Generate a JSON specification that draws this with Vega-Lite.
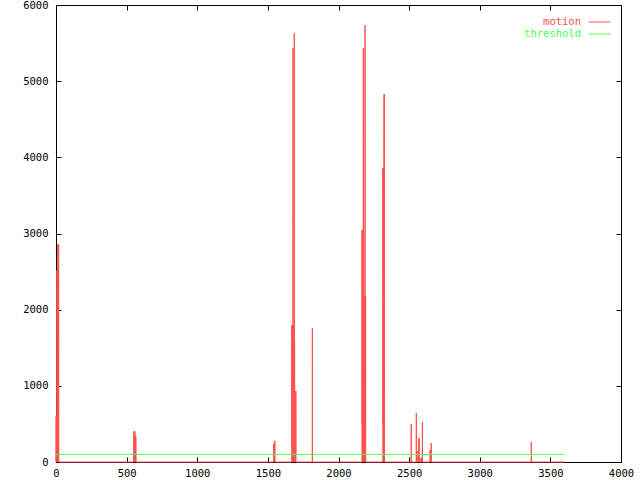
{
  "$schema": "https://vega.github.io/schema/vega-lite/v6.json",
  "width": 565,
  "height": 457,
  "autosize": {"type": "none"},
  "padding": {"left": 56, "top": 5, "right": 19, "bottom": 18},
  "background": "white",
  "config": {
    "view": {"stroke": null},
    "axis": {
      "grid": false,
      "domainColor": "black",
      "domainWidth": 1,
      "tickColor": "black",
      "tickWidth": 1,
      "tickSize": -5,
      "labelColor": "black",
      "labelFont": "DejaVu Sans Mono",
      "labelFontSize": 10.5,
      "title": null,
      "format": "d"
    }
  },
  "datasets": {
    "motion": [
      {"t": 0, "v": 0, "series": "motion"}, {"t": 1, "v": 596, "series": "motion"}, {"t": 2, "v": 0, "series": "motion"}, {"t": 3, "v": 596, "series": "motion"}, {"t": 4, "v": 200, "series": "motion"}, {"t": 5, "v": 596, "series": "motion"}, {"t": 6, "v": 0, "series": "motion"}, {"t": 7, "v": 2517, "series": "motion"}, {"t": 8, "v": 300, "series": "motion"}, {"t": 9, "v": 2517, "series": "motion"}, {"t": 10, "v": 0, "series": "motion"}, {"t": 11, "v": 2400, "series": "motion"}, {"t": 12, "v": 2517, "series": "motion"}, {"t": 13, "v": 100, "series": "motion"}, {"t": 14, "v": 2855, "series": "motion"}, {"t": 15, "v": 0, "series": "motion"}, {"t": 16, "v": 2855, "series": "motion"}, {"t": 17, "v": 600, "series": "motion"}, {"t": 18, "v": 2700, "series": "motion"}, {"t": 19, "v": 2855, "series": "motion"}, {"t": 20, "v": 0, "series": "motion"},
      {"t": 550, "v": 0, "series": "motion"}, {"t": 552, "v": 400, "series": "motion"}, {"t": 553, "v": 0, "series": "motion"}, {"t": 554, "v": 400, "series": "motion"}, {"t": 555, "v": 150, "series": "motion"}, {"t": 556, "v": 400, "series": "motion"}, {"t": 557, "v": 0, "series": "motion"}, {"t": 558, "v": 400, "series": "motion"}, {"t": 559, "v": 333, "series": "motion"}, {"t": 560, "v": 0, "series": "motion"}, {"t": 561, "v": 333, "series": "motion"}, {"t": 562, "v": 100, "series": "motion"}, {"t": 563, "v": 333, "series": "motion"}, {"t": 564, "v": 0, "series": "motion"}, {"t": 565, "v": 333, "series": "motion"}, {"t": 566, "v": 0, "series": "motion"},
      {"t": 1541, "v": 0, "series": "motion"}, {"t": 1542, "v": 237, "series": "motion"}, {"t": 1543, "v": 0, "series": "motion"}, {"t": 1544, "v": 237, "series": "motion"}, {"t": 1545, "v": 0, "series": "motion"}, {"t": 1546, "v": 237, "series": "motion"}, {"t": 1547, "v": 276, "series": "motion"}, {"t": 1548, "v": 0, "series": "motion"}, {"t": 1549, "v": 276, "series": "motion"}, {"t": 1550, "v": 0, "series": "motion"},
      {"t": 1669, "v": 0, "series": "motion"}, {"t": 1670, "v": 1795, "series": "motion"}, {"t": 1671, "v": 200, "series": "motion"}, {"t": 1672, "v": 1795, "series": "motion"}, {"t": 1673, "v": 0, "series": "motion"}, {"t": 1674, "v": 1700, "series": "motion"}, {"t": 1675, "v": 1795, "series": "motion"}, {"t": 1676, "v": 300, "series": "motion"}, {"t": 1677, "v": 1795, "series": "motion"}, {"t": 1678, "v": 5435, "series": "motion"}, {"t": 1679, "v": 0, "series": "motion"}, {"t": 1680, "v": 1500, "series": "motion"}, {"t": 1681, "v": 1000, "series": "motion"}, {"t": 1682, "v": 1800, "series": "motion"}, {"t": 1683, "v": 0, "series": "motion"}, {"t": 1684, "v": 1200, "series": "motion"}, {"t": 1685, "v": 400, "series": "motion"}, {"t": 1686, "v": 1400, "series": "motion"}, {"t": 1687, "v": 5632, "series": "motion"}, {"t": 1688, "v": 0, "series": "motion"}, {"t": 1689, "v": 1600, "series": "motion"}, {"t": 1690, "v": 932, "series": "motion"}, {"t": 1691, "v": 0, "series": "motion"}, {"t": 1692, "v": 932, "series": "motion"}, {"t": 1693, "v": 300, "series": "motion"}, {"t": 1694, "v": 932, "series": "motion"}, {"t": 1695, "v": 0, "series": "motion"}, {"t": 1696, "v": 932, "series": "motion"}, {"t": 1697, "v": 100, "series": "motion"}, {"t": 1698, "v": 932, "series": "motion"}, {"t": 1699, "v": 0, "series": "motion"},
      {"t": 1814, "v": 0, "series": "motion"}, {"t": 1815, "v": 1759, "series": "motion"}, {"t": 1816, "v": 0, "series": "motion"},
      {"t": 2166, "v": 0, "series": "motion"}, {"t": 2167, "v": 3046, "series": "motion"}, {"t": 2168, "v": 500, "series": "motion"}, {"t": 2169, "v": 3046, "series": "motion"}, {"t": 2170, "v": 0, "series": "motion"}, {"t": 2171, "v": 2800, "series": "motion"}, {"t": 2172, "v": 3046, "series": "motion"}, {"t": 2173, "v": 200, "series": "motion"}, {"t": 2174, "v": 3046, "series": "motion"}, {"t": 2175, "v": 400, "series": "motion"}, {"t": 2176, "v": 5435, "series": "motion"}, {"t": 2177, "v": 0, "series": "motion"}, {"t": 2178, "v": 2170, "series": "motion"}, {"t": 2179, "v": 300, "series": "motion"}, {"t": 2180, "v": 2170, "series": "motion"}, {"t": 2181, "v": 0, "series": "motion"}, {"t": 2182, "v": 2170, "series": "motion"}, {"t": 2183, "v": 2100, "series": "motion"}, {"t": 2184, "v": 200, "series": "motion"}, {"t": 2185, "v": 2170, "series": "motion"}, {"t": 2186, "v": 0, "series": "motion"}, {"t": 2187, "v": 2170, "series": "motion"}, {"t": 2188, "v": 5737, "series": "motion"}, {"t": 2189, "v": 100, "series": "motion"}, {"t": 2190, "v": 2170, "series": "motion"}, {"t": 2191, "v": 0, "series": "motion"}, {"t": 2192, "v": 2170, "series": "motion"}, {"t": 2193, "v": 0, "series": "motion"},
      {"t": 2314, "v": 0, "series": "motion"}, {"t": 2315, "v": 3860, "series": "motion"}, {"t": 2316, "v": 500, "series": "motion"}, {"t": 2317, "v": 3860, "series": "motion"}, {"t": 2318, "v": 0, "series": "motion"}, {"t": 2319, "v": 3700, "series": "motion"}, {"t": 2320, "v": 3860, "series": "motion"}, {"t": 2321, "v": 300, "series": "motion"}, {"t": 2322, "v": 3860, "series": "motion"}, {"t": 2323, "v": 4828, "series": "motion"}, {"t": 2324, "v": 0, "series": "motion"}, {"t": 2325, "v": 4828, "series": "motion"}, {"t": 2326, "v": 0, "series": "motion"},
      {"t": 2514, "v": 0, "series": "motion"}, {"t": 2515, "v": 499, "series": "motion"}, {"t": 2516, "v": 0, "series": "motion"},
      {"t": 2550, "v": 0, "series": "motion"}, {"t": 2551, "v": 643, "series": "motion"}, {"t": 2552, "v": 0, "series": "motion"},
      {"t": 2562, "v": 0, "series": "motion"}, {"t": 2563, "v": 144, "series": "motion"}, {"t": 2564, "v": 20, "series": "motion"}, {"t": 2565, "v": 144, "series": "motion"}, {"t": 2566, "v": 0, "series": "motion"}, {"t": 2567, "v": 144, "series": "motion"}, {"t": 2568, "v": 315, "series": "motion"}, {"t": 2569, "v": 0, "series": "motion"}, {"t": 2570, "v": 315, "series": "motion"}, {"t": 2571, "v": 0, "series": "motion"},
      {"t": 2583, "v": 0, "series": "motion"}, {"t": 2584, "v": 52, "series": "motion"}, {"t": 2585, "v": 0, "series": "motion"}, {"t": 2586, "v": 52, "series": "motion"}, {"t": 2587, "v": 0, "series": "motion"}, {"t": 2588, "v": 52, "series": "motion"}, {"t": 2589, "v": 0, "series": "motion"}, {"t": 2593, "v": 0, "series": "motion"}, {"t": 2594, "v": 525, "series": "motion"}, {"t": 2595, "v": 0, "series": "motion"},
      {"t": 2648, "v": 0, "series": "motion"}, {"t": 2649, "v": 157, "series": "motion"}, {"t": 2650, "v": 0, "series": "motion"}, {"t": 2651, "v": 157, "series": "motion"}, {"t": 2652, "v": 50, "series": "motion"}, {"t": 2653, "v": 157, "series": "motion"}, {"t": 2654, "v": 0, "series": "motion"}, {"t": 2655, "v": 157, "series": "motion"}, {"t": 2656, "v": 249, "series": "motion"}, {"t": 2657, "v": 0, "series": "motion"},
      {"t": 3364, "v": 0, "series": "motion"}, {"t": 3365, "v": 263, "series": "motion"}, {"t": 3366, "v": 0, "series": "motion"},
      {"t": 3600, "v": 0, "series": "motion"}
    ],
    "threshold": [
      {"t": 0, "v": 100, "series": "threshold"},
      {"t": 3600, "v": 100, "series": "threshold"}
    ]
  },
  "layer": [
    {
      "data": {"name": "motion"},
      "mark": {"type": "line", "strokeWidth": 1, "interpolate": "linear"},
      "encoding": {
        "x": {"field": "t", "type": "quantitative", "scale": {"domain": [0, 4000], "nice": false, "zero": true},
              "axis": {"orient": "bottom", "values": [0, 500, 1000, 1500, 2000, 2500, 3000, 3500, 4000], "labelPadding": 11, "labelFlush": false}},
        "y": {"field": "v", "type": "quantitative", "scale": {"domain": [0, 6000], "nice": false},
              "axis": {"orient": "left", "values": [0, 1000, 2000, 3000, 4000, 5000, 6000], "labelPadding": 13, "labelFlush": false}},
        "color": {"field": "series", "type": "nominal",
                  "scale": {"domain": ["motion", "threshold"], "range": ["#ff5050", "#50ff50"]},
                  "legend": {"orient": "none", "legendX": 537.5, "legendY": 11, "title": null, "symbolType": "M-2,0H2", "symbolSize": 121, "symbolStrokeWidth": 1, "symbolFillColor": "transparent", "labelAlign": "right", "labelOffset": -24.5, "labelFont": "DejaVu Sans Mono", "labelFontSize": 10.5, "rowPadding": 0, "labelLimit": 300, "padding": 0,
                             "encode": {"labels": {"update": {"fill": {"scale": "color", "field": "value"}}}}}}
      }
    },
    {
      "data": {"name": "threshold"},
      "mark": {"type": "line", "strokeWidth": 1},
      "encoding": {
        "x": {"field": "t", "type": "quantitative", "axis": {"orient": "top", "values": [0, 500, 1000, 1500, 2000, 2500, 3000, 3500, 4000], "labels": false}},
        "y": {"field": "v", "type": "quantitative", "axis": {"orient": "right", "values": [0, 1000, 2000, 3000, 4000, 5000, 6000], "labels": false}},
        "color": {"field": "series", "type": "nominal"}
      }
    }
  ],
  "resolve": {"axis": {"x": "independent", "y": "independent"}}
}
